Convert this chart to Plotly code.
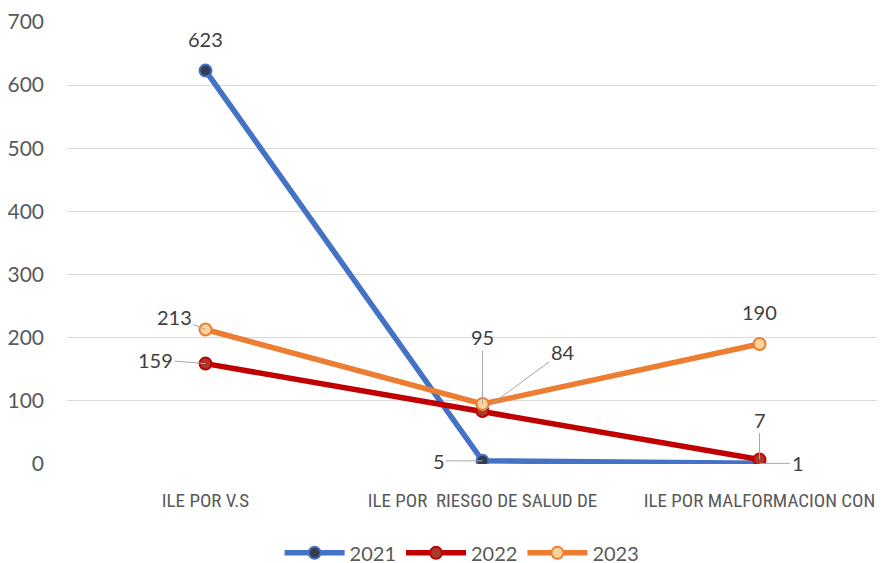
import plotly.graph_objects as go

categories = ["ILE POR V.S", "ILE POR\u00a0 RIESGO DE SALUD DE", "ILE POR MALFORMACION CON"]
years = ["2021", "2022", "2023"]
values_2021 = [623, 5, 1]
values_2022 = [159, 84, 7]
values_2023 = [213, 95, 190]
y_ticks = [0, 100, 200, 300, 400, 500, 600, 700]

series = [
    ("2021", values_2021, "#4472C4", "#333F50"),
    ("2022", values_2022, "#C00000", "#A8392C"),
    ("2023", values_2023, "#ED7D31", "#F8D39C"),
]

fig = go.Figure()
for name, vals, lc, mc in series:
    fig.add_trace(go.Scatter(
        x=categories, y=vals, name=name, mode="lines+markers",
        line=dict(color=lc, width=5.5),
        marker=dict(size=12, color=mc, line=dict(color=lc, width=2)),
        hoverinfo="skip",
    ))

numfont = dict(family="Lato, Open Sans, sans-serif", size=20, color="#404040")
# (series values, index, ax, ay, arrow)
label_specs = [
    (values_2021, 0, 0, -32, False),
    (values_2023, 0, -31, -13, True),
    (values_2022, 0, -50, -4, True),
    (values_2023, 1, 0, -67, True),
    (values_2022, 1, 80, -59, True),
    (values_2021, 1, -44, 0, True),
    (values_2023, 2, 0, -32, False),
    (values_2022, 2, 0, -40, True),
    (values_2021, 2, 38, 0, True),
]
for vals, i, ax, ay, arrow in label_specs:
    if arrow:
        fig.add_annotation(x=categories[i], y=vals[i], text=str(vals[i]),
                           showarrow=True, ax=ax, ay=ay, arrowhead=0,
                           arrowwidth=1, arrowcolor="#A6A6A6", standoff=0,
                           font=numfont)
    else:
        fig.add_annotation(x=categories[i], y=vals[i], text=str(vals[i]),
                           showarrow=False, yshift=-ay, font=numfont)

fig.update_layout(
    width=885, height=563,
    margin=dict(l=59, r=8, t=14, b=107, autoexpand=False),
    plot_bgcolor="white", paper_bgcolor="white",
    showlegend=True,
    legend=dict(orientation="h",
                x=0.483, xanchor="center", y=-0.201, yanchor="middle",
                font=dict(family="Lato, Open Sans, sans-serif", size=20, color="#595959"),
                itemwidth=60),
    xaxis=dict(range=[-0.5, -0.5 + 818 / 277], showgrid=False, zeroline=False,
               showline=False, ticks="",
               tickfont=dict(family="Liberation Sans Narrow, Roboto Condensed, Arial Narrow, sans-serif",
                             size=19, color="#595959"),
               ticklabelstandoff=23),
    yaxis=dict(range=[0, 700], tickvals=y_ticks, showgrid=True, gridcolor="#D9D9D9",
               gridwidth=1, zeroline=False, showline=False, ticks="",
               tickfont=dict(family="Lato, Open Sans, sans-serif", size=21, color="#595959"),
               ticklabelstandoff=22),
)

fig.write_html("out.html")
